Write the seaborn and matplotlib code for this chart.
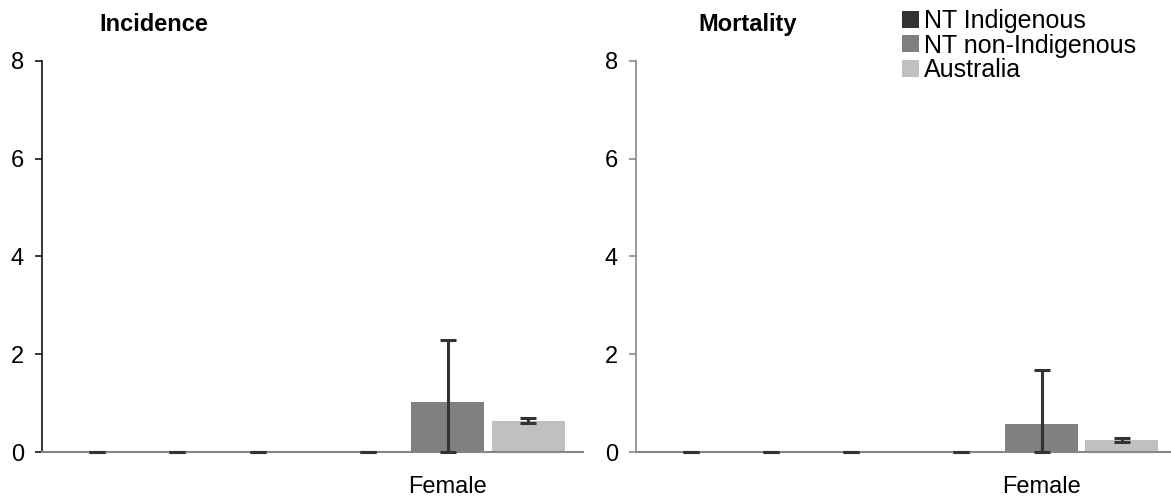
import numpy as np
import pandas as pd
import seaborn as sns
import matplotlib.pyplot as plt
from matplotlib.patches import Patch

# datos
sexes = ["Male", "Female"]
sex_labels = ["", "Female"]
groups = ["NT Indigenous", "NT non-Indigenous", "Australia"]
colors = ["#333333", "#808080", "#c0c0c0"]

inc_nt_ind = [0.0, 0.0]
inc_nt_non = [0.0, 1.02]
inc_aus = [0.0, 0.63]
inc_low_nt_ind = [0.0, 0.0]
inc_low_nt_non = [0.0, 0.0]
inc_low_aus = [0.0, 0.59]
inc_up_nt_ind = [0.0, 0.0]
inc_up_nt_non = [0.0, 2.30]
inc_up_aus = [0.0, 0.70]

mort_nt_ind = [0.0, 0.0]
mort_nt_non = [0.0, 0.57]
mort_aus = [0.0, 0.245]
mort_low_nt_ind = [0.0, 0.0]
mort_low_nt_non = [0.0, 0.0]
mort_low_aus = [0.0, 0.21]
mort_up_nt_ind = [0.0, 0.0]
mort_up_nt_non = [0.0, 1.67]
mort_up_aus = [0.0, 0.28]

y_ticks = [0, 2, 4, 6, 8]

sns.set_style("white")
plt.rcParams["font.family"] = ["Liberation Sans", "DejaVu Sans"]
plt.rcParams["text.color"] = "black"
plt.rcParams["xtick.color"] = "black"
plt.rcParams["ytick.color"] = "black"
plt.rcParams["xtick.labelcolor"] = "black"
plt.rcParams["ytick.labelcolor"] = "black"
FS = 17


def make_df(vals, lows, ups):
    rows = []
    for g, v, lo, up in zip(groups, vals, lows, ups):
        for s, a, b, c in zip(sexes, v, lo, up):
            rows.append({"sex": s, "group": g, "value": a, "low": b, "up": c})
    return pd.DataFrame(rows)


df_inc = make_df([inc_nt_ind, inc_nt_non, inc_aus],
                 [inc_low_nt_ind, inc_low_nt_non, inc_low_aus],
                 [inc_up_nt_ind, inc_up_nt_non, inc_up_aus])
df_mort = make_df([mort_nt_ind, mort_nt_non, mort_aus],
                  [mort_low_nt_ind, mort_low_nt_non, mort_low_aus],
                  [mort_up_nt_ind, mort_up_nt_non, mort_up_aus])

fig = plt.figure(figsize=(11.71, 4.97), dpi=100)
ax1 = fig.add_axes([0.0359, 0.0905, 0.462, 0.787])
ax2 = fig.add_axes([0.5431, 0.0905, 0.462, 0.787])


def draw(ax, df, title, spine_col):
    sns.barplot(data=df, x="sex", y="value", hue="group", order=sexes,
                hue_order=groups, palette=colors, width=0.89, gap=0.09,
                saturation=1, errorbar=None, linewidth=0, legend=False, ax=ax)
    # barras de error desde las barras dibujadas
    for cont, g in zip(ax.containers, groups):
        sub = df[df["group"] == g].set_index("sex").loc[sexes]
        for bar, (_, r) in zip(cont, sub.iterrows()):
            xc = bar.get_x() + bar.get_width() / 2
            ax.errorbar(xc, r["value"], yerr=[[r["value"] - r["low"]], [r["up"] - r["value"]]],
                        fmt="none", ecolor="#333333", elinewidth=2.2, capsize=5.8,
                        capthick=2.2, zorder=5, clip_on=False)
    ax.set_ylim(0, 8)
    ax.set_xlim(-0.5, 1.5)
    ax.set_yticks(y_ticks)
    ax.set_xticks(range(len(sexes)))
    ax.set_xticklabels(sex_labels, fontsize=FS)
    ax.tick_params(axis="y", left=True, length=5, width=1.1, color=spine_col,
                   labelsize=FS, pad=8)
    ax.tick_params(axis="x", bottom=False, length=0, pad=17)
    ax.set_xlabel("")
    ax.set_ylabel("")
    for s in ["top", "right"]:
        ax.spines[s].set_visible(False)
    ax.spines["left"].set_color(spine_col)
    ax.spines["left"].set_linewidth(1.1)
    ax.spines["bottom"].set_color("#868686")
    ax.spines["bottom"].set_linewidth(1.5)
    ax.text(0.207, 1.0 + 36 / 391, title, transform=ax.transAxes, ha="center",
            va="center", fontsize=FS, fontweight="bold")


draw(ax1, df_inc, "Incidence", "#000000")
draw(ax2, df_mort, "Mortality", "#808080")

handles = [Patch(facecolor=c, edgecolor="none", label=g) for g, c in zip(groups, colors)]
fig.legend(handles=handles, loc="upper left", bbox_to_anchor=(902 / 1171, 1 - 9 / 497),
           frameon=False, fontsize=18, handlelength=0.68, handleheight=0.68,
           handletextpad=0.18, labelspacing=0.02, borderpad=0, borderaxespad=0)

plt.savefig("out.png", dpi=100)
